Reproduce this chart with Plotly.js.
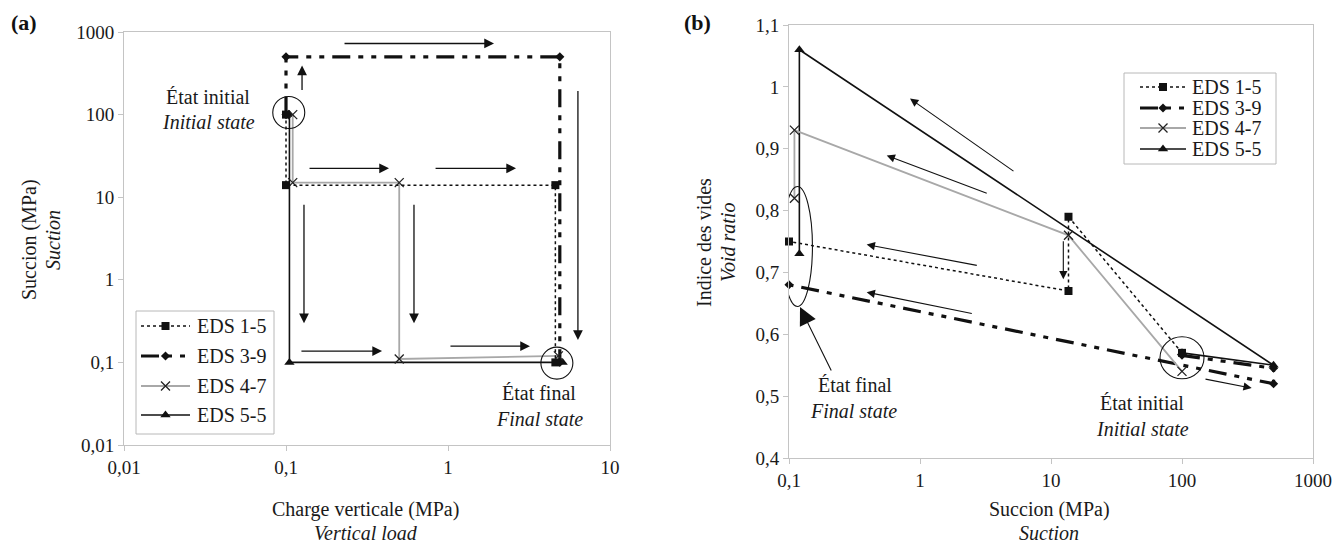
<!DOCTYPE html>
<html>
<head>
<meta charset="utf-8">
<script src="https://cdn.plot.ly/plotly-3.0.1.min.js"></script>
<style>html,body{margin:0;padding:0;background:#fff;}#chart{width:1333px;height:544px;}</style>
</head>
<body>
<div id="chart"></div>
<script>
// ---------- DATA ----------
const seriesNames = ['EDS 1-5', 'EDS 3-9', 'EDS 4-7', 'EDS 5-5'];

// (a) Charge verticale (MPa) vs Succion (MPa)
const a_load_15 = [0.1, 0.1, 4.6, 4.6];
const a_suc_15  = [100, 14, 14, 0.1];
const a_load_39 = [0.1, 0.1, 4.9, 4.9];
const a_suc_39  = [100, 500, 500, 0.1];
const a_load_47 = [0.11, 0.11, 0.5, 0.5, 4.8];
const a_suc_47  = [100, 15, 15, 0.11, 0.12];
const a_load_55 = [0.105, 0.105, 5.1];
const a_suc_55  = [100, 0.1, 0.1];

// (b) Succion (MPa) vs Indice des vides
const b_suc_15 = [100, 13.6, 13.6, 0.1];
const b_e_15   = [0.57, 0.79, 0.67, 0.75];
const b_suc_39 = [100, 500, 500, 0.1];
const b_e_39   = [0.566, 0.545, 0.52, 0.68];
const b_suc_47 = [100, 13.6, 0.11, 0.11];
const b_e_47   = [0.54, 0.76, 0.93, 0.82];
const b_suc_55 = [100, 500, 0.12, 0.12];
const b_e_55   = [0.57, 0.55, 1.06, 0.73];

// tick labels
const a_xtickvals = [0.01, 0.1, 1, 10];
const a_xticktext = ['0,01', '0,1', '1', '10'];
const a_ytickvals = [0.01, 0.1, 1, 10, 100, 1000];
const a_yticktext = ['0,01', '0,1', '1', '10', '100', '1000'];
const b_xtickvals = [0.1, 1, 10, 100, 1000];
const b_xticktext = ['0,1', '1', '10', '100', '1000'];
const b_ytickvals = [0.4, 0.5, 0.6, 0.7, 0.8, 0.9, 1.0, 1.1];
const b_yticktext = ['0,4', '0,5', '0,6', '0,7', '0,8', '0,9', '1', '1,1'];

// ---------- STYLE ----------
const W = 1333, H = 544;
const FONT = "'Liberation Serif', 'Times New Roman', serif";
const DASHDOT = '18px,8px,5px,8px,5px,8px';
const GREY = '#a8a8a8';
const TXT = '#1a1a1a';

const styles = [
  {line: {color: '#111', width: 1.5, dash: 'dot'}, marker: {symbol: 'square', size: 8, color: '#111'}},
  {line: {color: '#111', width: 3.2, dash: DASHDOT}, marker: {symbol: 'diamond', size: 7, color: '#111'}},
  {line: {color: GREY, width: 1.8}, marker: {symbol: 'x-thin-open', size: 9, color: '#222', line: {width: 1.3, color: '#222'}}},
  {line: {color: '#111', width: 1.6}, marker: {symbol: 'triangle-up', size: 9, color: '#111'}}
];

function mk(x, y, i, xa, ya) {
  return {
    x: x, y: y, name: seriesNames[i], type: 'scatter', mode: 'lines+markers',
    xaxis: xa, yaxis: ya, showlegend: false,
    line: styles[i].line, marker: styles[i].marker, cliponaxis: false
  };
}

// drawing order: 5-5, 3-9, 4-7, 1-5
const traces = [
  mk(a_load_55, a_suc_55, 3, 'x', 'y'),
  mk(a_load_39, a_suc_39, 1, 'x', 'y'),
  mk(a_load_47, a_suc_47, 2, 'x', 'y'),
  mk(a_load_15, a_suc_15, 0, 'x', 'y'),
  mk(b_suc_55, b_e_55, 3, 'x2', 'y2'),
  mk(b_suc_39, b_e_39, 1, 'x2', 'y2'),
  mk(b_suc_47, b_e_47, 2, 'x2', 'y2'),
  mk(b_suc_15, b_e_15, 0, 'x2', 'y2')
];

// ---------- LEGENDS (drawn on a pixel-scaled overlay axis x3/y3) ----------
const legendBoxes = [
  {box: [136, 311, 274, 434], rows: [326, 356, 386, 415], line: [141, 190], textX: 195},
  {box: [1124, 73, 1276, 164], rows: [87, 108, 128, 149], line: [1140, 1186], textX: 1190}
];
const annotations = [];
const shapes = [];
legendBoxes.forEach(L => {
  shapes.push({type: 'rect', xref: 'paper', yref: 'paper', layer: 'below',
    x0: L.box[0] / W, x1: L.box[2] / W, y0: 1 - L.box[1] / H, y1: 1 - L.box[3] / H,
    line: {color: '#b8b8b8', width: 1}, fillcolor: '#fff'});
  seriesNames.forEach((name, i) => {
    const r = L.rows[i];
    traces.push({x: [L.line[0], L.line[1]], y: [r, r], xaxis: 'x3', yaxis: 'y3', type: 'scatter',
      mode: 'lines', line: styles[i].line, showlegend: false, cliponaxis: false});
    traces.push({x: [(L.line[0] + L.line[1]) / 2], y: [r], xaxis: 'x3', yaxis: 'y3', type: 'scatter',
      mode: 'markers', marker: styles[i].marker, showlegend: false, cliponaxis: false});
    annotations.push({xref: 'paper', yref: 'paper', x: L.textX / W, y: 1 - r / H,
      xanchor: 'left', yanchor: 'middle', text: name, showarrow: false,
      font: {family: FONT, size: 20, color: TXT}});
  });
});

const axCommon = {
  showline: true, linecolor: '#c4c4c4', linewidth: 1, mirror: true,
  ticks: 'outside', ticklen: 5, tickcolor: '#c4c4c4', tickwidth: 1,
  showgrid: false, zeroline: false,
  tickfont: {family: FONT, size: 19, color: TXT}
};

const xDomA = [124 / W, 610 / W], yDomA = [(H - 445) / H, (H - 32) / H];
const xDomB = [789 / W, 1313 / W], yDomB = [(H - 458) / H, (H - 25) / H];
const xRangeA = [-2, 1], yRangeA = [-2, 3], xRangeB = [-1, 3], yRangeB = [0.4, 1.1];

// arrows: [tailX, tailY, headX, headY] in log10 units for log axes
const arrowsA = [
  [-0.648, 2.861, 0.284, 2.861],
  [-0.901, 2.28, -0.901, 2.595],
  [-0.864, 1.349, -0.364, 1.349],
  [-0.086, 1.349, 0.42, 1.349],
  [-0.889, 0.926, -0.889, -0.525],
  [-0.21, 0.926, -0.21, -0.525],
  [-0.914, -0.863, -0.407, -0.863],
  [0.006, -0.803, 0.506, -0.803],
  [0.802, 2.305, 0.802, -0.73]
];
const arrowsB = [
  [0.725, 0.862, -0.076, 0.981],
  [0.521, 0.827, -0.254, 0.889],
  [0.445, 0.711, -0.407, 0.745],
  [0.407, 0.633, -0.407, 0.668],
  [1.094, 0.753, 1.094, 0.689],
  [2.168, 0.528, 2.532, 0.513]
];

function arrow(a, xr, yr, size, width) {
  return {xref: xr, yref: yr, axref: xr, ayref: yr,
    ax: a[0], ay: a[1], x: a[2], y: a[3], text: '', showarrow: true,
    font: {size: 1}, arrowhead: 2, arrowsize: size, arrowwidth: width,
    arrowcolor: '#111', standoff: 0, startstandoff: 0};
}
arrowsA.forEach(a => annotations.push(arrow(a, 'x', 'y', 1.5, 1.3)));
arrowsB.forEach(a => annotations.push(arrow(a, 'x2', 'y2', 1.5, 1.1)));
annotations.push(arrow([-0.672, 0.539, -0.916, 0.644], 'x2', 'y2', 3.2, 1.1));

function txt(px, py, text, opts) {
  return Object.assign({xref: 'paper', yref: 'paper', x: px / W, y: 1 - py / H,
    xanchor: 'center', yanchor: 'middle', text: text, showarrow: false,
    font: {family: FONT, size: 20, color: TXT}}, opts || {});
}
annotations.push(
  txt(24, 23, '<b>(a)</b>', {font: {family: FONT, size: 22, color: '#111'}}),
  txt(697, 23, '<b>(b)</b>', {font: {family: FONT, size: 22, color: '#111'}}),
  txt(208, 97, 'État initial'),
  txt(208, 122, '<i>Initial state</i>'),
  txt(539, 393, 'État final'),
  txt(539, 419, '<i>Final state</i>'),
  txt(855, 385, 'État final'),
  txt(853, 411, '<i>Final state</i>'),
  txt(1142, 403, 'État initial'),
  txt(1142, 429, '<i>Initial state</i>'),
  txt(366, 509, 'Charge verticale (MPa)'),
  txt(366, 533, '<i>Vertical load</i>'),
  txt(29, 240, 'Succion (MPa)', {textangle: -90}),
  txt(53, 240, '<i>Suction</i>', {textangle: -90}),
  txt(1049, 509, 'Succion (MPa)'),
  txt(1049, 533, '<i>Suction</i>'),
  txt(704, 243, 'Indice des vides', {textangle: -90}),
  txt(728, 243, '<i>Void ratio</i>', {textangle: -90})
);

// ellipses around initial / final states, radii in pixels converted to axis units
function ring(xr, yr, cx, cy, rx, ry, xDom, yDom, xRange, yRange, xLog, yLog) {
  const pxX = (xDom[1] - xDom[0]) * W / (xRange[1] - xRange[0]);
  const pxY = (yDom[1] - yDom[0]) * H / (yRange[1] - yRange[0]);
  const fx = v => xLog ? Math.pow(10, Math.log10(cx) + v / pxX) : cx + v / pxX;
  const fy = v => yLog ? Math.pow(10, Math.log10(cy) + v / pxY) : cy + v / pxY;
  return {type: 'circle', xref: xr, yref: yr,
    x0: fx(-rx), x1: fx(rx), y0: fy(-ry), y1: fy(ry),
    line: {color: '#111', width: 1.1}, fillcolor: 'rgba(0,0,0,0)'};
}
shapes.push(
  ring('x', 'y', 0.104, 106, 16, 16, xDomA, yDomA, xRangeA, yRangeA, true, true),
  ring('x', 'y', 4.7, 0.098, 16, 16, xDomA, yDomA, xRangeA, yRangeA, true, true),
  ring('x2', 'y2', 0.116, 0.742, 15, 60, xDomB, yDomB, xRangeB, yRangeB, true, false),
  ring('x2', 'y2', 100, 0.562, 22, 21, xDomB, yDomB, xRangeB, yRangeB, true, false)
);

const layout = {
  width: W, height: H, margin: {l: 0, r: 0, t: 0, b: 0},
  paper_bgcolor: '#fff', plot_bgcolor: 'rgba(0,0,0,0)',
  font: {family: FONT, size: 18, color: TXT},
  showlegend: false,
  xaxis: Object.assign({}, axCommon, {type: 'log', domain: xDomA, range: xRangeA,
    tickvals: a_xtickvals, ticktext: a_xticktext, anchor: 'y'}),
  yaxis: Object.assign({}, axCommon, {type: 'log', domain: yDomA, range: yRangeA,
    tickvals: a_ytickvals, ticktext: a_yticktext, anchor: 'x'}),
  xaxis2: Object.assign({}, axCommon, {type: 'log', domain: xDomB, range: xRangeB,
    tickvals: b_xtickvals, ticktext: b_xticktext, anchor: 'y2'}),
  yaxis2: Object.assign({}, axCommon, {domain: yDomB, range: yRangeB,
    tickvals: b_ytickvals, ticktext: b_yticktext, anchor: 'x2'}),
  xaxis3: {domain: [0, 1], range: [0, W], visible: false, anchor: 'y3', fixedrange: true},
  yaxis3: {domain: [0, 1], range: [H, 0], visible: false, anchor: 'x3', fixedrange: true},
  annotations: annotations,
  shapes: shapes
};

Plotly.newPlot('chart', traces, layout, {displayModeBar: false, staticPlot: true});
</script>
</body>
</html>
